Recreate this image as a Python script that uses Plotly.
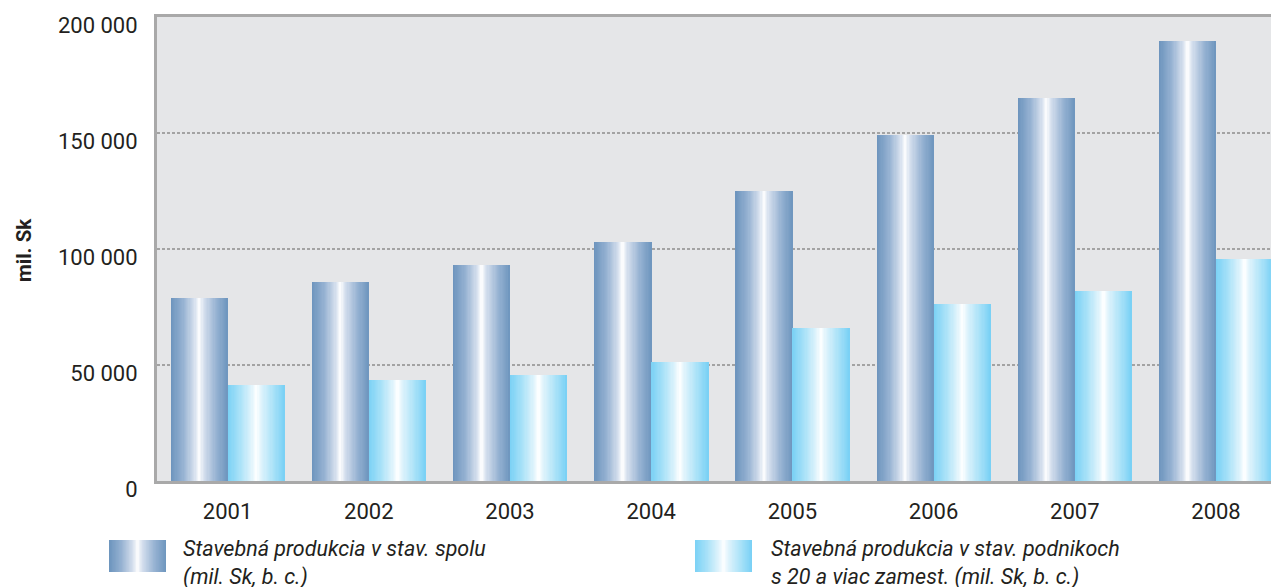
import plotly.graph_objects as go

# ---- data ----
years = ["2001", "2002", "2003", "2004", "2005", "2006", "2007", "2008"]
total_prod = [79000, 85600, 92900, 103200, 125200, 149200, 165200, 189700]
firms20_prod = [41300, 43400, 45600, 51200, 65800, 76100, 81700, 95900]
series_names = [
    "Stavebná produkcia v stav. spolu<br>(mil. Sk, b. c.)",
    "Stavebná produkcia v stav. podnikoch<br>s 20 a viac zamest. (mil. Sk, b. c.)",
]
y_ticks = [0, 50000, 100000, 150000, 200000]
y_ticktext = ["0", "50 000", "100 000", "150 000", "200 000"]
y_title = "mil. Sk"

# ---- styling ----
OFF = 8  # page body margin
W, H = 1279 - OFF, 587 - OFF
ML, MR, MT, MB = 149, 0, 9, 106
FONT = "Roboto, Liberation Sans, sans-serif"
TXT = "#231f20"

dark_stops = [(0.0, (108, 148, 189)), (0.22, (150, 178, 210)), (0.42, (214, 224, 238)),
              (0.5, (255, 255, 255)), (0.58, (214, 224, 238)), (0.8, (150, 178, 210)),
              (1.0, (110, 150, 190))]
light_stops = [(0.0, (122, 209, 245)), (0.22, (170, 226, 248)), (0.42, (225, 244, 252)),
               (0.5, (255, 255, 255)), (0.58, (225, 244, 252)), (0.8, (170, 226, 248)),
               (1.0, (120, 208, 245))]


def grad(stops, t):
    for (t0, c0), (t1, c1) in zip(stops[:-1], stops[1:]):
        if t0 <= t <= t1:
            f = (t - t0) / (t1 - t0) if t1 > t0 else 0
            c = [round(a + (b - a) * f) for a, b in zip(c0, c1)]
            return "rgb(%d,%d,%d)" % tuple(c)
    c = stops[-1][1]
    return "rgb(%d,%d,%d)" % c


N = 48
BW = 0.404
fig = go.Figure()
for vals, stops, start in [(total_prod, dark_stops, -BW), (firms20_prod, light_stops, 0.0)]:
    for i in range(N):
        t = (i + 0.5) / N
        off = start + BW * i / N
        fig.add_trace(go.Bar(
            x=years, y=vals, offset=off, width=BW * (N - i) / N,
            marker=dict(color=grad(stops, t), line=dict(width=0)),
            showlegend=False, hoverinfo="skip"))

# legend drawn manually (gradient swatches); positions given in reference pixels
pw = W - ML - MR
ph = H - MT - MB


def px_x(x):
    return (x - OFF - ML) / pw


def px_y(y):
    return (H - MB - (y - OFF)) / ph


shapes = []
for x0, stops in [(109, dark_stops), (695, light_stops)]:
    sw = 57
    M = 40
    for i in range(M):
        t = (i + 0.5) / M
        shapes.append(dict(type="rect", xref="paper", yref="paper",
                           x0=px_x(x0 + sw * i / M), x1=px_x(x0 + sw),
                           y0=px_y(572), y1=px_y(540),
                           fillcolor=grad(stops, t), line=dict(width=0), layer="above"))

annotations = []
for x0, name in [(181, series_names[0]), (769, series_names[1])]:
    annotations.append(dict(text="<i>" + name + "</i>", xref="paper", yref="paper",
                            x=px_x(x0), y=px_y(534), xanchor="left", yanchor="top",
                            align="left", showarrow=False,
                            font=dict(family=FONT, size=21.5, color=TXT)))
annotations.append(dict(text="<b>" + y_title + "</b>", xref="paper", yref="paper",
                        x=px_x(24), y=px_y(250), xanchor="center", yanchor="middle",
                        textangle=-90, showarrow=False,
                        font=dict(family=FONT, size=20.5, color=TXT)))

# x range so that each category is ~141 px and the plot runs off the right edge
cat_px = 141.2
xmax = -0.5 + pw / cat_px

fig.update_layout(
    width=W, height=H,
    margin=dict(l=ML, r=MR, t=MT, b=MB, autoexpand=False),
    paper_bgcolor="white", plot_bgcolor="#e5e6e8",
    barmode="overlay", bargap=0,
    font=dict(family=FONT, size=22, color=TXT),
    shapes=shapes, annotations=annotations, showlegend=False,
    xaxis=dict(type="category", range=[-0.5, xmax], showgrid=False,
               showline=True, linecolor="#a9a9a9", linewidth=3, mirror=True,
               ticks="", ticklabelstandoff=9, tickfont=dict(size=22)),
    yaxis=dict(range=[0, 200000], tickvals=y_ticks, ticktext=y_ticktext,
               showgrid=True, gridcolor="#a3a3a3", griddash="3px,2px", gridwidth=1.5,
               zeroline=False, showline=True, linecolor="#a9a9a9", linewidth=3,
               ticks="", ticklabelstandoff=12, ticklabelshift=8,
               ticklabeloverflow="allow", tickfont=dict(size=22)),
)

fig.write_html("out.html")
